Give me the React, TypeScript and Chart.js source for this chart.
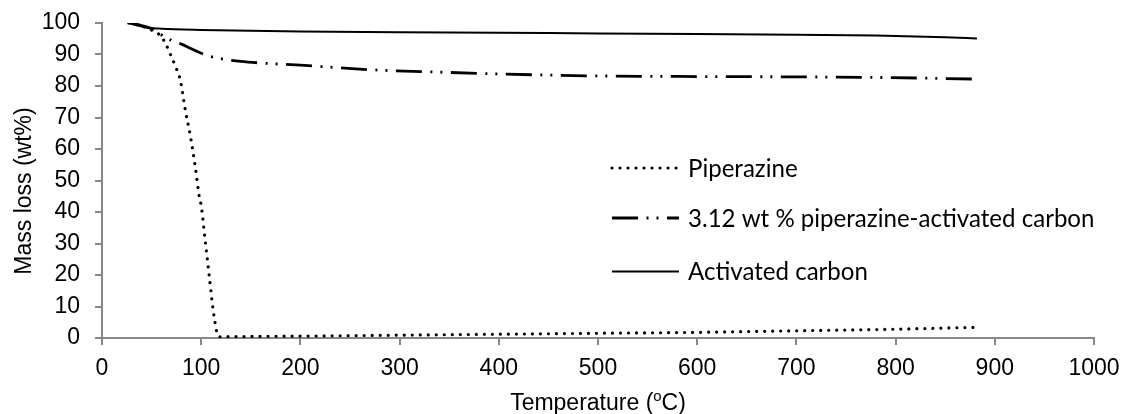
import React, { useEffect, useRef } from "react";
import { Chart, registerables } from "chart.js";

Chart.register(...registerables);

// ---- Data ----
const piperazineTemp = [27, 35, 42, 50, 60, 64, 70, 75, 79, 84, 89, 94, 98, 100, 104, 108, 112, 116, 118, 150, 200, 300, 400, 500, 600, 700, 800, 880];
const piperazineMass = [100, 99.5, 98.8, 97.8, 95.6, 93.5, 89.3, 85.5, 81.8, 72.3, 64.3, 54.3, 45, 42, 31, 20, 9, 1.5, 0.4, 0.5, 0.6, 0.9, 1.2, 1.5, 1.8, 2.3, 2.8, 3.4];

const pzAcTemp = [27, 40, 50, 60, 70, 80, 90, 100, 110, 125, 140, 160, 200, 275, 350, 443, 500, 600, 700, 785, 882];
const pzAcMass = [100, 99.2, 98.2, 96.2, 94.5, 93.3, 91.8, 90.4, 89.3, 88.4, 87.8, 87.3, 86.6, 85.1, 84.3, 83.5, 83.2, 83.0, 82.9, 82.7, 82.2];

const acTemp = [27, 35, 45, 60, 100, 200, 300, 400, 500, 600, 700, 780, 850, 882];
const acMass = [100, 99.3, 98.6, 98.2, 97.8, 97.3, 97.1, 96.9, 96.7, 96.5, 96.3, 96.0, 95.5, 95.1];

const seriesLabels = ["Piperazine", "3.12 wt % piperazine-activated carbon", "Activated carbon"];
const xTicks = { min: 0, max: 1000, step: 100 };
const yTicks = { min: 0, max: 100, step: 10 };
const xTitleParts = ["Temperature (", "o", "C)"];
const yTitle = "Mass loss (wt%)";

const toPoints = (xs: number[], ys: number[]) => xs.map((x, i) => ({ x, y: ys[i] }));

const AXIS_FONT = '"Liberation Sans", Arial, sans-serif';
const LEGEND_FONT = 'Lato, "Open Sans", sans-serif';
const AXIS_GRAY = "#878787";

const dotDash = [0.01, 8];
const dashDotDot = [26, 8.5, 2, 8, 2, 8.5];

const styles = [
  { dash: dotDash, width: 3.2, cap: "round" as CanvasLineCap },
  { dash: dashDotDot, width: 2.8, cap: "butt" as CanvasLineCap },
  { dash: [] as number[], width: 2, cap: "butt" as CanvasLineCap },
];

const customPlugin = {
  id: "customDecor",
  afterDraw(chart: any) {
    const ctx: CanvasRenderingContext2D = chart.ctx;
    ctx.save();
    // Legend
    const rowsY = [168, 218, 271.5];
    const x0 = 612;
    const x1 = 679;
    const textX = 688;
    let size = 24;
    ctx.font = `${size}px ${LEGEND_FONT}`;
    const w = ctx.measureText(seriesLabels[2]).width;
    size = (size * 180) / w;
    for (let i = 0; i < 3; i++) {
      const st = styles[i];
      ctx.beginPath();
      ctx.setLineDash(st.dash);
      ctx.lineCap = st.cap;
      ctx.lineWidth = st.width;
      ctx.strokeStyle = "#000";
      ctx.moveTo(x0, rowsY[i]);
      ctx.lineTo(x1, rowsY[i]);
      ctx.stroke();
      ctx.setLineDash([]);
      ctx.fillStyle = "#000";
      ctx.font = `${size}px ${LEGEND_FONT}`;
      ctx.textAlign = "left";
      ctx.textBaseline = "middle";
      ctx.fillText(seriesLabels[i], textX, rowsY[i] + 1);
    }

    // X title with superscript
    const fs = 23;
    ctx.fillStyle = "#000";
    ctx.textBaseline = "alphabetic";
    ctx.textAlign = "left";
    const normalFont = `${fs}px ${AXIS_FONT}`;
    const supFont = `${fs * 0.65}px ${AXIS_FONT}`;
    ctx.font = normalFont;
    const wA = ctx.measureText(xTitleParts[0]).width;
    const wC = ctx.measureText(xTitleParts[2]).width;
    ctx.font = supFont;
    const wB = ctx.measureText(xTitleParts[1]).width;
    const total = wA + wB + wC;
    const cx = (chart.chartArea.left + chart.chartArea.right) / 2;
    let tx = cx - total / 2;
    const baseY = 410;
    ctx.font = normalFont;
    ctx.fillText(xTitleParts[0], tx, baseY);
    tx += wA;
    ctx.font = supFont;
    ctx.fillText(xTitleParts[1], tx, baseY - fs * 0.38);
    tx += wB;
    ctx.font = normalFont;
    ctx.fillText(xTitleParts[2], tx, baseY);

    // Y title rotated
    ctx.translate(31, 191);
    ctx.rotate(-Math.PI / 2);
    ctx.font = normalFont;
    ctx.textAlign = "center";
    ctx.textBaseline = "alphabetic";
    ctx.fillText(yTitle, 0, 0);
    ctx.restore();
  },
};

export default function App() {
  const canvasRef = useRef<HTMLCanvasElement | null>(null);

  useEffect(() => {
    if (!canvasRef.current) return;
    const tickFont = { family: AXIS_FONT, size: 23 };
    const chart = new Chart(canvasRef.current, {
      type: "line",
      data: {
        datasets: [
          {
            label: seriesLabels[0],
            data: toPoints(piperazineTemp, piperazineMass),
            borderColor: "#000",
            borderWidth: styles[0].width,
            borderDash: styles[0].dash,
            borderCapStyle: "round",
            pointRadius: 0,
            cubicInterpolationMode: "monotone",
            fill: false,
          },
          {
            label: seriesLabels[1],
            data: toPoints(pzAcTemp, pzAcMass),
            borderColor: "#000",
            borderWidth: styles[1].width,
            borderDash: styles[1].dash,
            borderCapStyle: "butt",
            pointRadius: 0,
            cubicInterpolationMode: "monotone",
            fill: false,
          },
          {
            label: seriesLabels[2],
            data: toPoints(acTemp, acMass),
            borderColor: "#000",
            borderWidth: styles[2].width,
            pointRadius: 0,
            cubicInterpolationMode: "monotone",
            fill: false,
          },
        ],
      },
      options: {
        responsive: false,
        animation: false,
        layout: { padding: { top: 23, right: 30, left: 0, bottom: 0 } },
        plugins: {
          legend: { display: false },
          tooltip: { enabled: false },
        },
        scales: {
          x: {
            type: "linear",
            min: xTicks.min,
            max: xTicks.max,
            ticks: {
              stepSize: xTicks.step,
              color: "#000",
              font: tickFont,
              padding: 10,
              maxRotation: 0,
              callback: (v: any) => String(v),
            },
            grid: { drawOnChartArea: false, drawTicks: true, tickLength: 7, color: AXIS_GRAY, lineWidth: 2 },
            border: { color: AXIS_GRAY, width: 2 },
            afterFit: (s: any) => {
              s.height = 76;
              s.paddingLeft = 0;
              s.paddingRight = 0;
            },
          },
          y: {
            type: "linear",
            min: yTicks.min,
            max: yTicks.max,
            ticks: {
              stepSize: yTicks.step,
              color: "#000",
              font: tickFont,
              padding: 15,
              callback: (v: any) => String(v),
            },
            grid: { drawOnChartArea: false, drawTicks: true, tickLength: 7, color: AXIS_GRAY, lineWidth: 2 },
            border: { color: AXIS_GRAY, width: 2 },
            afterFit: (s: any) => {
              s.width = 102;
              s.paddingTop = 0;
              s.paddingBottom = 0;
            },
          },
        },
      },
      plugins: [customPlugin],
    });
    return () => chart.destroy();
  }, []);

  return (
    <div style={{ position: "absolute", left: 0, top: 0, width: 1124, height: 414, background: "#fff" }}>
      <canvas ref={canvasRef} width={1124} height={414} />
    </div>
  );
}
